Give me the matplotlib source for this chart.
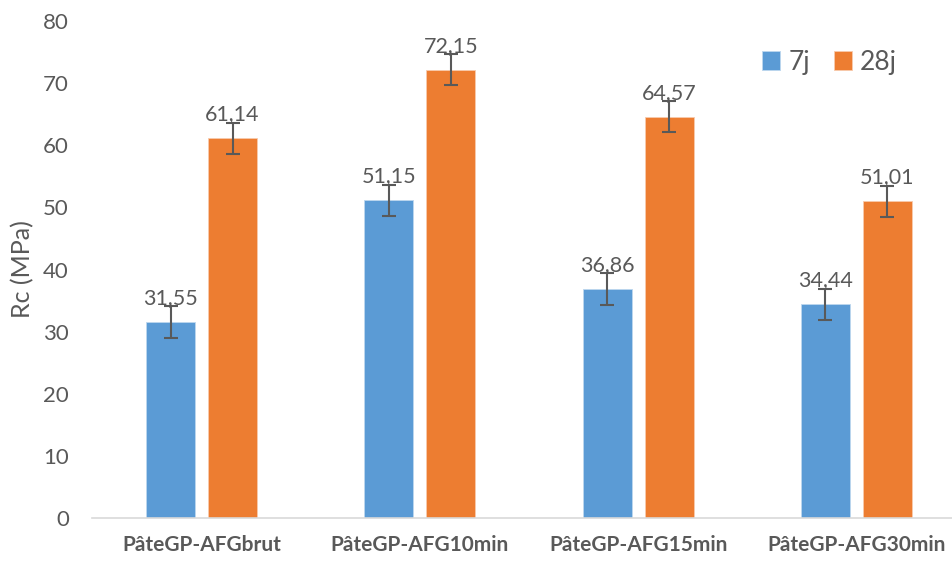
import matplotlib.pyplot as plt
import numpy as np

plt.rcParams['font.family'] = ['Lato', 'DejaVu Sans']

categories = ["PâteGP-AFGbrut", "PâteGP-AFG10min", "PâteGP-AFG15min", "PâteGP-AFG30min"]
rc_7j = [31.55, 51.15, 36.86, 34.44]
rc_28j = [61.14, 72.15, 64.57, 51.01]
err_7j = [2.5, 2.5, 2.5, 2.5]
err_28j = [2.5, 2.5, 2.5, 2.5]
series_names = ["7j", "28j"]

blue = "#5B9BD5"
orange = "#ED7D31"
grey = "#595959"

fig = plt.figure(figsize=(9.53, 5.61), dpi=100)
ax = fig.add_axes([92.5 / 953, 43 / 561, 1 - 92.5 / 953, 497 / 561])

x = np.arange(len(categories))
w = 0.225
off = 0.142

ax.bar(x - off, rc_7j, w, color=blue, edgecolor="#BDD7EE", linewidth=0.6,
       yerr=err_7j, error_kw=dict(ecolor=grey, elinewidth=1.5, capsize=5, capthick=1.5),
       label=series_names[0])
ax.bar(x + off, rc_28j, w, color=orange, edgecolor="#F8CBAD", linewidth=0.6,
       yerr=err_28j, error_kw=dict(ecolor=grey, elinewidth=1.5, capsize=5, capthick=1.5),
       label=series_names[1])

# étiquettes de valeurs (virgule décimale)
for xs, vals in [(x - off, rc_7j), (x + off, rc_28j)]:
    for xi, v in zip(xs, vals):
        ax.annotate(f"{v:.2f}".replace(".", ","), (xi, v), xytext=(0, 10),
                    textcoords="offset points", ha="center", va="bottom",
                    fontsize=15.5, color=grey)

ax.set_xlim(-0.5, (953 - 201.5) / 218.3)
ax.set_ylim(0, 80)
ax.set_yticks(np.arange(0, 81, 10))
ax.set_xticks(x)
ax.set_xticklabels(categories, fontsize=15, fontweight="bold", color=grey)
ax.tick_params(axis="y", labelsize=16, labelcolor=grey, length=0, pad=17)
ax.tick_params(axis="x", length=0, pad=12)
ax.set_ylabel("Rc (MPa)", fontsize=18, color=grey, labelpad=6)

for s in ["top", "right", "left"]:
    ax.spines[s].set_visible(False)
ax.spines["bottom"].set_color("#D9D9D9")
ax.spines["bottom"].set_linewidth(1.2)

ax.legend(loc="upper right", bbox_to_anchor=(0.9625, 0.99), ncol=2, frameon=False,
          fontsize=19, handlelength=0.7, handleheight=0.7, handletextpad=0.3,
          columnspacing=0.9, labelcolor=grey)

fig.savefig("out.png", dpi=100)
